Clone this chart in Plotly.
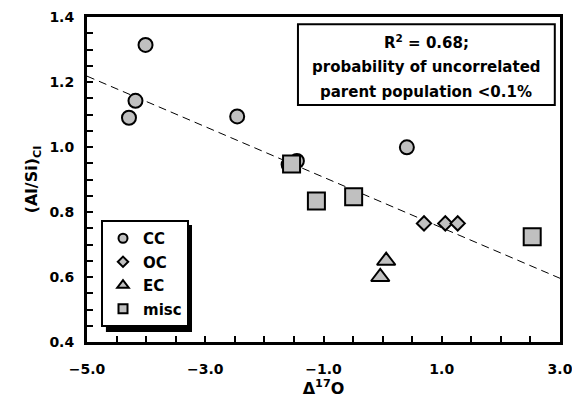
import plotly.graph_objects as go

# ---- data ----
cc_x = [-4.01, -4.18, -4.29, -2.46, -1.59, -1.45, 0.41]
cc_y = [1.314, 1.142, 1.090, 1.094, 0.946, 0.957, 0.999]

oc_x = [0.70, 1.06, 1.27]
oc_y = [0.765, 0.765, 0.765]

ec_x = [0.06, -0.04]
ec_y = [0.650, 0.600]

misc_x = [-1.54, -1.12, -0.49, 2.53]
misc_y = [0.948, 0.834, 0.847, 0.724]

trend_x = [-5.0, 3.0]
trend_y = [1.218, 0.596]

x_range = [-5.0, 3.0]
y_range = [0.4, 1.4]

annot_lines = ["R<sup>2</sup> = 0.68;",
               "probability of uncorrelated",
               "parent population &lt;0.1%"]

FONT = "DejaVu Sans"
GREY = "#c0c0c0"

fig = go.Figure()

fig.add_trace(go.Scatter(x=trend_x, y=trend_y, mode="lines",
                         line=dict(color="black", width=1, dash="8px,5px"),
                         showlegend=False, hoverinfo="skip"))

series = [("CC", cc_x, cc_y, "circle", 14, 9),
          ("OC", oc_x, oc_y, "diamond", 11, 8),
          ("EC", ec_x, ec_y, "triangle-up", 16, 10),
          ("misc", misc_x, misc_y, "square", 17, 9)]

for name, x, y, sym, size, lsize in series:
    fig.add_trace(go.Scatter(x=x, y=y, mode="markers", name=name,
                             showlegend=False,
                             marker=dict(symbol=sym, size=size, color=GREY,
                                         line=dict(color="black", width=2))))

# legend entries (small symbols, as in the reference legend)
for name, x, y, sym, size, lsize in series:
    fig.add_trace(go.Scatter(x=[None], y=[None], mode="markers", name=name,
                             legendgroup=name, showlegend=True,
                             marker=dict(symbol=sym, size=lsize, color=GREY,
                                         line=dict(color="black", width=2))))

axis_common = dict(showline=True, linewidth=3, linecolor="black", mirror=True,
                   showgrid=False, zeroline=False, ticks="inside", ticklen=6,
                   tickwidth=2, tickcolor="black", automargin=False,
                   tickfont=dict(family=FONT, size=14, color="black", weight="bold"))

fig.update_xaxes(range=x_range, tick0=-5, dtick=2, tickformat=".1f",
                 ticklabelstandoff=12,
                 minor=dict(dtick=0.5, ticks="inside", ticklen=6, tickwidth=2,
                            tickcolor="black"),
                 title=dict(text="Δ<sup>17</sup>O", standoff=6,
                            font=dict(family=FONT, size=16, color="black", weight="bold")),
                 **axis_common)
fig.update_yaxes(range=y_range, tick0=0.4, dtick=0.2, tickformat=".1f",
                 ticklabelstandoff=7,
                 minor=dict(dtick=0.05, ticks="inside", ticklen=6, tickwidth=2,
                            tickcolor="black"),
                 title=dict(text="(Al/Si)<sub>CI</sub>", standoff=8,
                            font=dict(family=FONT, size=16, color="black", weight="bold")),
                 **axis_common)

# annotation box
fig.add_shape(type="rect", xref="paper", yref="paper",
              x0=0.446, x1=0.989, y0=0.729, y1=0.978,
              line=dict(color="black", width=2), fillcolor="white", layer="below")
for yy, txt in zip([0.923, 0.846, 0.769], annot_lines):
    fig.add_annotation(x=0.717, y=yy, xref="paper", yref="paper", text=txt,
                       showarrow=False, xanchor="center", yanchor="middle",
                       font=dict(family=FONT, size=15, color="black", weight="bold"))

# legend shadow
fig.add_shape(type="rect", xref="paper", yref="paper",
              x0=0.040, x1=0.222, y0=0.031, y1=0.36,
              line=dict(width=0), fillcolor="black", layer="above")

# page body has an 8px margin: figure sized/offset so the plot lands where the reference has it
fig.update_layout(
    width=572, height=396,
    margin=dict(l=79, r=20, t=9, b=62),
    paper_bgcolor="white", plot_bgcolor="white",
    showlegend=True,
    legend=dict(x=0.0296, y=0.3754, xanchor="left", yanchor="top",
                bgcolor="white", bordercolor="black", borderwidth=2,
                tracegroupgap=1,
                font=dict(family=FONT, size=15, color="black", weight="bold")),
)

fig.write_html("out.html")
